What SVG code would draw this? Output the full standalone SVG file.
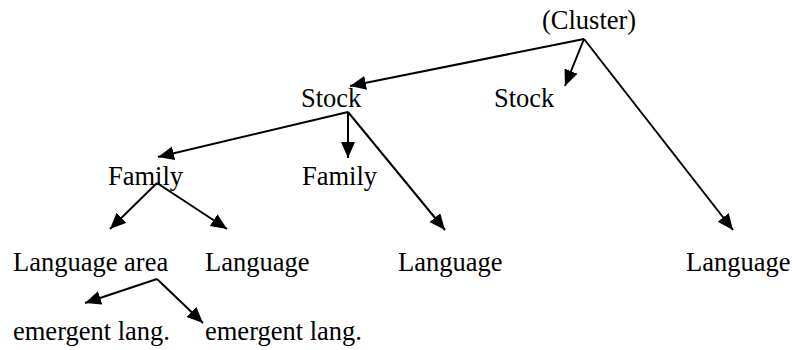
<svg xmlns="http://www.w3.org/2000/svg" width="792" height="350" viewBox="0 0 792 350">
<style>
text{font-family:'Liberation Serif','DejaVu Serif',serif;font-size:26.5px;fill:#000}
.e line{stroke:#000;stroke-width:2;fill:none}
</style>
<defs>
<marker id="ah" markerUnits="userSpaceOnUse" markerWidth="17" markerHeight="15" refX="16" refY="7" orient="auto">
<path d="M0,0 L16,7 L0,14 z" fill="#000"/>
</marker>
</defs>
<rect width="792" height="350" fill="#fff"/>
<g font-family="Liberation Serif, serif">
<g id="cluster"><text x="542" y="29">(Cluster)</text></g>
<g id="stock1"><text x="301" y="107">Stock</text></g>
<g id="stock2"><text x="494" y="107">Stock</text></g>
<g id="family1"><text x="108" y="185">Family</text></g>
<g id="family2"><text x="302" y="185">Family</text></g>
<g id="langarea"><text x="13" y="271">Language area</text></g>
<g id="lang1"><text x="205" y="271">Language</text></g>
<g id="lang2"><text x="398" y="271">Language</text></g>
<g id="lang3"><text x="686" y="271">Language</text></g>
<g id="emergent1"><text x="13" y="340">emergent lang.</text></g>
<g id="emergent2"><text x="205" y="340">emergent lang.</text></g>
</g>
<g id="connectors" class="e">
<line x1="584" y1="39" x2="350" y2="86" marker-end="url(#ah)"/>
<line x1="584" y1="39" x2="565" y2="86" marker-end="url(#ah)"/>
<line x1="584" y1="39" x2="733" y2="230" marker-end="url(#ah)"/>
<line x1="348" y1="112" x2="158" y2="157" marker-end="url(#ah)"/>
<line x1="348" y1="112" x2="348" y2="158" marker-end="url(#ah)"/>
<line x1="348" y1="112" x2="445" y2="230" marker-end="url(#ah)"/>
<line x1="157" y1="183" x2="110" y2="229" marker-end="url(#ah)"/>
<line x1="157" y1="183" x2="227" y2="229" marker-end="url(#ah)"/>
<line x1="157" y1="279" x2="85" y2="303" marker-end="url(#ah)"/>
<line x1="157" y1="279" x2="203" y2="323" marker-end="url(#ah)"/>
</g>
</svg>
